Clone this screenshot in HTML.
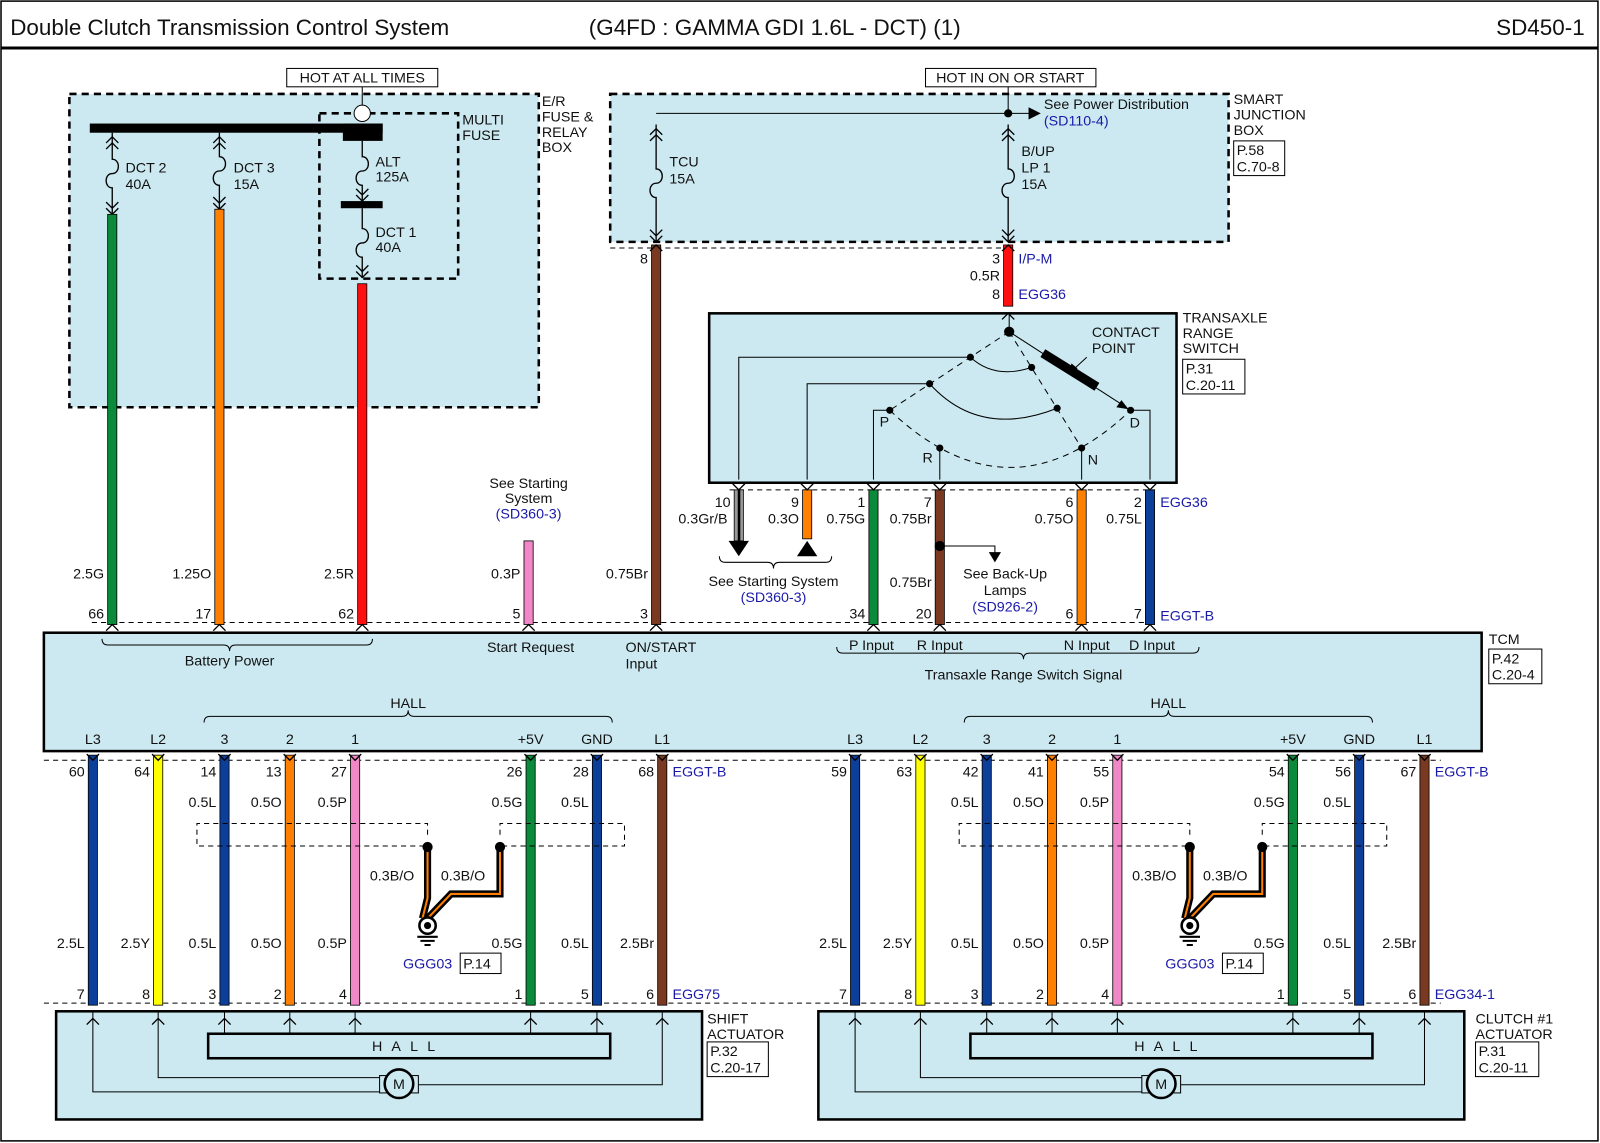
<!DOCTYPE html>
<html><head><meta charset="utf-8"><style>
html,body{margin:0;padding:0;background:#fff}
svg{display:block}
text{font-family:"Liberation Sans",Arial,sans-serif;font-size:14px;fill:#111}
.b{fill:#1a1aa8}
.t{font-size:22px}
</style></head><body>
<svg id="s" width="1600" height="1143" viewBox="0 0 1568 1120" xmlns="http://www.w3.org/2000/svg">
<rect x="1" y="1" width="1565" height="1117" fill="#fff" stroke="#000" stroke-width="1.5"/>
<line x1="1" y1="47" x2="1566" y2="47" stroke="#000" stroke-width="3"/>
<text x="10" y="34" class="t">Double Clutch Transmission Control System</text>
<text x="577" y="34" class="t">(G4FD : GAMMA GDI 1.6L - DCT)  (1)</text>
<text x="1553" y="34" class="t" text-anchor="end">SD450-1</text>

<rect x="68" y="92" width="460" height="307" fill="#cce9f1" stroke="#000" stroke-width="2.5" stroke-dasharray="7,5"/>
<rect x="313" y="111" width="136" height="162" fill="none" stroke="#000" stroke-width="2.5" stroke-dasharray="7,5"/>
<rect x="281" y="67" width="148" height="18" fill="#fff" stroke="#000"/>
<text x="355" y="81" text-anchor="middle">HOT AT ALL TIMES</text>
<line x1="355" y1="85" x2="355" y2="103" stroke="#000"/>
<circle cx="355" cy="111" r="8" fill="#fff" stroke="#000"/>
<rect x="88" y="121" width="287" height="9" fill="#000"/>
<rect x="336" y="121" width="39" height="17" fill="#000"/>
<rect x="334" y="197" width="41" height="7" fill="#000"/>
<text x="531" y="104">E/R</text><text x="531" y="119">FUSE &amp;</text><text x="531" y="134">RELAY</text><text x="531" y="149">BOX</text>
<text x="453" y="122">MULTI</text><text x="453" y="137">FUSE</text>
<text x="123" y="169">DCT 2</text><text x="123" y="185">40A</text>
<text x="229" y="169">DCT 3</text><text x="229" y="185">15A</text>
<text x="368" y="163">ALT</text><text x="368" y="178">125A</text>
<text x="368" y="232">DCT 1</text><text x="368" y="247">40A</text>

<rect x="598" y="92" width="606" height="145" fill="#cce9f1" stroke="#000" stroke-width="2.5" stroke-dasharray="7,5"/>
<rect x="907" y="67" width="167" height="18" fill="#fff" stroke="#000"/>
<text x="990" y="81" text-anchor="middle">HOT IN ON OR START</text>
<line x1="988" y1="85" x2="988" y2="111" stroke="#000"/>
<line x1="643" y1="111" x2="1010" y2="111" stroke="#000"/>
<polygon points="1008,105 1020,111 1008,117" fill="#000"/>
<circle cx="988" cy="111" r="4" fill="#000"/>
<text x="1023" y="107">See Power Distribution</text>
<text x="1023" y="123" class="b">(SD110-4)</text>
<text x="656" y="163">TCU</text><text x="656" y="180">15A</text>
<text x="1001" y="153">B/UP</text><text x="1001" y="169">LP 1</text><text x="1001" y="185">15A</text>
<text x="1209" y="102">SMART</text><text x="1209" y="117">JUNCTION</text><text x="1209" y="132">BOX</text>
<rect x="1209" y="138" width="50" height="34" fill="#fff" stroke="#000"/>
<text x="1212" y="152">P.58</text><text x="1212" y="168">C.70-8</text>
<line x1="598" y1="243" x2="990" y2="243" stroke="#000" stroke-dasharray="5,4"/>

<rect x="695" y="307" width="458" height="166" fill="#cce9f1" stroke="#000" stroke-width="2.5"/>
<text x="1159" y="316">TRANSAXLE</text><text x="1159" y="331">RANGE</text><text x="1159" y="346">SWITCH</text>
<rect x="1159" y="352" width="61" height="34" fill="#fff" stroke="#000"/>
<text x="1162" y="366">P.31</text><text x="1162" y="382">C.20-11</text>
<g stroke="#000" fill="none">
<line x1="989" y1="307" x2="989" y2="325"/>
<path d="M989,325 L872,402" stroke-dasharray="6,5"/>
<path d="M989,325 L1060,439" stroke-dasharray="6,5"/>
<path d="M872,402 Q990,514 1108,402" stroke-dasharray="6,5"/>
<path d="M951,350 Q975,372 1011,360"/>
<path d="M911,376 Q960,430 1036,400"/>
<path d="M951,350 H724 V470"/><path d="M911,376 H791 V470"/>
<path d="M872,402 H856 V470"/><path d="M921,439 V470"/>
<path d="M1060,439 V470"/><path d="M1108,402 H1127 V470"/>
<line x1="989" y1="325" x2="1102" y2="398"/>
<line x1="1065" y1="350" x2="1052" y2="362"/>
</g>
<line x1="1022" y1="346" x2="1075" y2="379" stroke="#000" stroke-width="9"/>
<polygon points="1106,401 1094,399 1099,392" fill="#000"/>
<polygon points="1048,366 1050,356 1056,361" fill="#000"/>
<g fill="#000"><circle cx="989" cy="325" r="5"/><circle cx="951" cy="350" r="3.5"/><circle cx="1011" cy="360" r="3.5"/><circle cx="911" cy="376" r="3.5"/><circle cx="1036" cy="400" r="3.5"/><circle cx="872" cy="402" r="3.5"/><circle cx="921" cy="439" r="3.5"/><circle cx="1060" cy="439" r="3.5"/><circle cx="1108" cy="402" r="3.5"/></g>
<text x="862" y="418">P</text><text x="904" y="453">R</text><text x="1066" y="455">N</text><text x="1107" y="419">D</text>
<text x="1070" y="330">CONTACT</text><text x="1070" y="346">POINT</text>
<line x1="715" y1="480" x2="1132" y2="480" stroke="#000" stroke-dasharray="5,4"/>

<line x1="90" y1="610" x2="1132" y2="610" stroke="#000" stroke-dasharray="5,4"/>
<rect x="43" y="620" width="1409" height="116" fill="#cce9f1" stroke="#000" stroke-width="2.5"/>
<text x="1459" y="631">TCM</text>
<rect x="1459" y="636" width="52" height="34" fill="#fff" stroke="#000"/>
<text x="1462" y="650">P.42</text><text x="1462" y="666">C.20-4</text>
<g stroke="#000" fill="none">
<path d="M100,626 q0,6 6,6 H219 q6,0 6,6 q0,-6 6,-6 H359 q6,0 6,-6"/>
<path d="M820,634 q0,6 6,6 H997 q6,0 6,6 q0,-6 6,-6 H1169 q6,0 6,-6"/>
<path d="M200,708 q0,-6 6,-6 H394 q6,0 6,-6 q0,6 6,6 H594 q6,0 6,6"/>
<path d="M945,708 q0,-6 6,-6 H1139 q6,0 6,-6 q0,6 6,6 H1339 q6,0 6,6"/>
</g>
<text x="225" y="652" text-anchor="middle">Battery Power</text>
<text x="520" y="639" text-anchor="middle">Start Request</text>
<text x="613" y="639">ON/START</text><text x="613" y="655">Input</text>
<text x="854" y="637" text-anchor="middle">P Input</text>
<text x="921" y="637" text-anchor="middle">R Input</text>
<text x="1065" y="637" text-anchor="middle">N Input</text>
<text x="1129" y="637" text-anchor="middle">D Input</text>
<text x="1003" y="666" text-anchor="middle">Transaxle Range Switch Signal</text>
<text x="400" y="694" text-anchor="middle">HALL</text>
<text x="1145" y="694" text-anchor="middle">HALL</text>
<line x1="43" y1="745" x2="1412" y2="745" stroke="#000" stroke-dasharray="5,4"/>
<line x1="43" y1="983" x2="1412" y2="983" stroke="#000" stroke-dasharray="5,4"/>

<g id="dyn"></g>
</svg>
<script>
var g=document.getElementById('dyn'),h='';
var C={L:'#0c3f9a',Y:'#ffff00',O:'#ff8000',P:'#f088c8',G:'#0a8a3a',Br:'#7a3a22',R:'#ff1010',Gr:'#888'};
function wire(x,y1,y2,c){h+='<rect x="'+(x-4.5)+'" y="'+y1+'" width="9" height="'+(y2-y1)+'" fill="'+C[c]+'" stroke="#000" stroke-width="0.8"/>';}
function chv(x,y,d){h+='<path d="M'+(x-6)+','+(y-6*d)+' L'+x+','+y+' L'+(x+6)+','+(y-6*d)+'" fill="none" stroke="#000" stroke-width="1.3"/>';}
function t(x,y,s,a,c){h+='<text x="'+x+'" y="'+y+'"'+(a?' text-anchor="'+a+'"':'')+(c?' class="b"':'')+'>'+s+'</text>';}
function fuse(x,y1,y2,dbl){var m=(y1+y2)/2;h+='<path d="M'+x+','+y1+' V'+(m-14)+' c8,0 8,14 0,14 c-8,0 -8,14 0,14 V'+y2+'" fill="none" stroke="#000" stroke-width="1.3"/>';
 if(dbl){chv(x,y1+4,-1);chv(x,y1+10,-1);}chv(x,y2-6,1);chv(x,y2,1);}
fuse(110,130,210,1);fuse(215,130,205,1);fuse(355,138,197,0);fuse(355,204,272,0);
wire(110,210,612,'G');wire(215,205,612,'O');wire(355,278,612,'R');
t(102,567,'2.5G','end');t(102,606,'66','end');t(207,567,'1.25O','end');t(207,606,'17','end');t(347,567,'2.5R','end');t(347,606,'62','end');
wire(518,530,612,'P');
t(518,478,'See Starting','middle');t(518,493,'System','middle');t(518,508,'(SD360-3)','middle',1);
t(510,567,'0.3P','end');t(510,606,'5','end');
fuse(643,122,237,1);fuse(988,122,237,1);
wire(643,240,612,'Br');wire(988,240,300,'R');chv(643,240,-1);chv(988,240,-1);chv(988,307,-1);
t(635,258,'8','end');t(635,567,'0.75Br','end');t(635,606,'3','end');
t(980,258,'3','end');t(998,258,'I/P-M','',1);t(980,275,'0.5R','end');t(980,293,'8','end');t(998,293,'EGG36','',1);
h+='<rect x="719.5" y="480" width="9" height="50" fill="#999" stroke="#000" stroke-width="0.8"/><rect x="723" y="480" width="2.5" height="50" fill="#000"/>';
h+='<polygon points="714,530 734,530 724,545" fill="#000"/>';
wire(791,480,528,'O');h+='<polygon points="781,545 801,545 791,530" fill="#000"/>';
h+='<path d="M705,545 q0,6 6,6 H752 q6,0 6,6 q0,-6 6,-6 H809 q6,0 6,-6" fill="none" stroke="#000"/>';
t(758,574,'See Starting System','middle');t(758,590,'(SD360-3)','middle',1);
wire(856,480,612,'G');wire(921,480,612,'Br');wire(1060,480,612,'O');wire(1127,480,612,'L');
[724,791,856,921,1060,1127].forEach(function(x){chv(x,480,1);});
t(716,497,'10','end');t(713,513,'0.3Gr/B','end');t(783,497,'9','end');t(783,513,'0.3O','end');
t(848,497,'1','end');t(848,513,'0.75G','end');t(848,606,'34','end');
t(913,497,'7','end');t(913,513,'0.75Br','end');t(913,575,'0.75Br','end');t(913,606,'20','end');
t(1052,497,'6','end');t(1052,513,'0.75O','end');t(1052,606,'6','end');
t(1119,497,'2','end');t(1119,513,'0.75L','end');t(1119,606,'7','end');t(1137,497,'EGG36','',1);t(1137,608,'EGGT-B','',1);
h+='<circle cx="921" cy="535" r="5" fill="#000"/><path d="M921,535 H975 V542" fill="none" stroke="#000"/><polygon points="969,541 981,541 975,551" fill="#000"/>';
t(985,567,'See Back-Up','middle');t(985,583,'Lamps','middle');t(985,599,'(SD926-2)','middle',1);
[110,215,355,518,643,856,921,1060,1127].forEach(function(x){chv(x,612,-1);});
function sec(o,pins,eg,name,box){
 var xs=[91,155,220,284,348,520,585,649].map(function(v){return v+o;});
 var cs=['L','Y','L','O','P','G','L','Br'];
 var top=['L3','L2','3','2','1','+5V','GND','L1'];
 var b1=['0.5L','0.5O','0.5P','0.5G','0.5L'];
 var b2=['2.5L','2.5Y','0.5L','0.5O','0.5P','0.5G','0.5L','2.5Br'];
 var bn=['7','8','3','2','4','1','5','6'];
 h+='<rect x="'+(55+o)+'" y="991" width="633" height="106" fill="#cce9f1" stroke="#000" stroke-width="2.5"/>';
 h+='<rect x="'+(204+o)+'" y="1013" width="394" height="24" fill="#cce9f1" stroke="#000" stroke-width="2.5"/>';
 h+='<text x="'+(400+o)+'" y="1030" text-anchor="middle" style="letter-spacing:9px">HALL</text>';
 [2,3,4,5,6].forEach(function(i){h+='<line x1="'+xs[i]+'" y1="992" x2="'+xs[i]+'" y2="1013" stroke="#000"/>';});
 var mx=391+o;
 h+='<path d="M'+xs[0]+',992 V1070 H'+(mx-16)+' M'+xs[1]+',992 V1056 H'+(mx-16)+' M'+xs[7]+',992 V1063 H'+(mx+16)+'" fill="none" stroke="#000"/>';
 h+='<rect x="'+(mx-19)+'" y="1054" width="38" height="17" fill="#cce9f1" stroke="#000"/><circle cx="'+mx+'" cy="1062" r="14" fill="#cce9f1" stroke="#000" stroke-width="2.5"/><text x="'+mx+'" y="1067" text-anchor="middle">M</text>';
 for(var i=0;i<8;i++){wire(xs[i],740,985,cs[i]);chv(xs[i],745,1);chv(xs[i],998,-1);
  t(xs[i],729,top[i],'middle');t(xs[i]-8,761,pins[i],'end');t(xs[i]-8,929,b2[i],'end');t(xs[i]-8,979,bn[i],'end');}
 [2,3,4,5,6].forEach(function(i,j){t(xs[i]-8,791,b1[j],'end');});
 t(xs[7]+10,761,'EGGT-B','',1);t(xs[7]+10,979,eg,'',1);
 h+='<path d="M'+(419+o)+',818 V807 H'+(193+o)+' V829 H'+(419+o)+' M'+(490+o)+',818 V807 H'+(612+o)+' V829 H'+(490+o)+'" fill="none" stroke="#000" stroke-dasharray="5,4"/>';
 var gp='M'+(419+o)+',830 V880 L'+(414+o)+',900 M'+(490+o)+',830 V876 H'+(442+o)+' L'+(419+o)+',900';
 h+='<path d="'+gp+'" fill="none" stroke="#000" stroke-width="7"/><path d="'+gp+'" fill="none" stroke="#ff8000" stroke-width="2"/>';
 h+='<circle cx="'+(419+o)+'" cy="830" r="5" fill="#000"/><circle cx="'+(490+o)+'" cy="830" r="5" fill="#000"/>';
 h+='<circle cx="'+(419+o)+'" cy="907" r="8" fill="#fff" stroke="#000" stroke-width="2.5"/><circle cx="'+(419+o)+'" cy="907" r="3.5" fill="#000"/>';
 h+='<path d="M'+(409+o)+',918 H'+(429+o)+' M'+(412+o)+',922 H'+(426+o)+' M'+(416+o)+',926 H'+(422+o)+'" stroke="#000" stroke-width="2"/>';
 t(406+o,863,'0.3B/O','end');t(432+o,863,'0.3B/O');
 t(395+o,949,'GGG03','',1);h+='<rect x="'+(451+o)+'" y="934" width="40" height="20" fill="#fff" stroke="#000"/>';t(454+o,949,'P.14');
 t(693+o+(box[2]||0),1003,name[0]);t(693+o+(box[2]||0),1018,name[1]);
 var bx=693+o+(box[2]||0);h+='<rect x="'+bx+'" y="1021" width="'+box[3]+'" height="34" fill="#fff" stroke="#000"/>';t(bx+3,1035,box[0]);t(bx+3,1051,box[1]);
}
sec(0,['60','64','14','13','27','26','28','68'],'EGG75',['SHIFT','ACTUATOR'],['P.32','C.20-17',0,60]);
sec(747,['59','63','42','41','55','54','56','67'],'EGG34-1',['CLUTCH #1','ACTUATOR'],['P.31','C.20-11',6,62]);
g.innerHTML=h;
</script>
</body></html>
